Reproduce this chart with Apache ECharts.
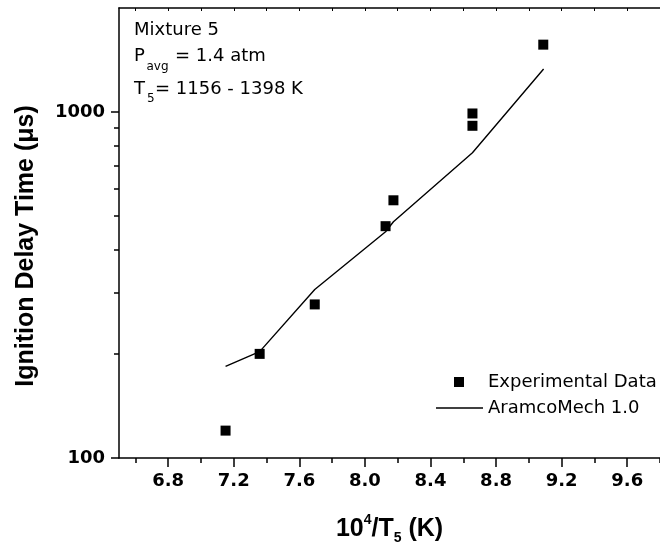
<!DOCTYPE html>
<html>
<head>
<meta charset="utf-8">
<script src="https://cdn.jsdelivr.net/npm/echarts@6/dist/echarts.min.js"></script>
<style>html,body{margin:0;padding:0;background:#fff}#c{width:660px;height:550px}</style>
</head>
<body>
<div id="c"></div>
<script>
// ---- data ----
const expX = [7.15, 7.358, 7.694, 8.126, 8.174, 8.656, 8.656, 9.088];
const expY = [120, 200, 278, 468, 556, 991, 913, 1567];
const simX = [7.15, 7.358, 7.694, 8.126, 8.174, 8.656, 9.09];
const simY = [184, 203, 307, 451, 482, 763, 1333];
const xMajorTicks = [6.8, 7.2, 7.6, 8.0, 8.4, 8.8, 9.2, 9.6];
const xMinorTicks = [6.6, 7.0, 7.4, 7.8, 8.2, 8.6, 9.0, 9.4, 9.8];
const xTopTicks = [6.6, 6.8, 7.0, 7.2, 7.4, 7.6, 7.8, 8.0, 8.2, 8.4, 8.6, 8.8, 9.0, 9.2, 9.4, 9.6, 9.8];
const yMajorTicks = [100, 1000];
const yMinorTicks = [200, 300, 400, 500, 600, 700, 800, 900];
const seriesNames = ['Experimental Data', 'AramcoMech 1.0'];

const expData = expX.map((x, i) => [x, expY[i]]);
const simData = simX.map((x, i) => [x, simY[i]]);

const chart = echarts.init(document.getElementById('c'));
const FONT = 'DejaVu Sans';
const axisLine = {show: true, lineStyle: {color: '#000', width: 1.5}};
const X_MIN = 6.5, X_MAX = 9.8, Y_MIN = 100, Y_MAX = 2000;

chart.setOption({
  animation: false,
  backgroundColor: '#fff',
  grid: {left: 119, right: -10, top: 8, bottom: 92, containLabel: false},
  xAxis: [
    {
      type: 'value', min: X_MIN, max: X_MAX, position: 'bottom',
      axisLine: axisLine,
      axisTick: {show: true, inside: false, length: 9, customValues: xMajorTicks, lineStyle: {color: '#000', width: 1.5}},
      axisLabel: {show: true, customValues: xMajorTicks, margin: 14, color: '#000',
        fontFamily: FONT, fontWeight: 'bold', fontSize: 18, formatter: v => v.toFixed(1)},
      splitLine: {show: false},
      name: '{a|10}{sup|4}{a|/T}{sub|5}{a| (K)}',
      nameLocation: 'middle', nameGap: 55,
      nameTextStyle: {
        rich: {
          a: {fontFamily: 'Liberation Sans', fontWeight: 'bold', fontSize: 25, color: '#000', lineHeight: 32},
          sup: {fontFamily: 'Liberation Sans', fontWeight: 'bold', fontSize: 14, color: '#000', verticalAlign: 'top', lineHeight: 14},
          sub: {fontFamily: 'Liberation Sans', fontWeight: 'bold', fontSize: 14, color: '#000', verticalAlign: 'bottom', lineHeight: 14}
        }
      }
    },
    {
      type: 'value', min: X_MIN, max: X_MAX, position: 'bottom',
      axisLine: {show: false},
      axisTick: {show: true, inside: false, length: 5, customValues: xMinorTicks, lineStyle: {color: '#000', width: 1.5}},
      axisLabel: {show: false}, splitLine: {show: false}
    },
    {
      type: 'value', min: X_MIN, max: X_MAX, position: 'top',
      axisLine: axisLine,
      axisTick: {show: true, inside: true, length: 3, customValues: xTopTicks, lineStyle: {color: '#000', width: 1}},
      axisLabel: {show: false}, splitLine: {show: false}
    }
  ],
  yAxis: [
    {
      type: 'log', logBase: 10, min: Y_MIN, max: Y_MAX, position: 'left',
      axisLine: axisLine,
      axisTick: {show: true, inside: false, length: 8, customValues: yMajorTicks, lineStyle: {color: '#000', width: 1.5}},
      axisLabel: {show: true, customValues: yMajorTicks, margin: 14, color: '#000',
        fontFamily: FONT, fontWeight: 'bold', fontSize: 18, formatter: v => String(Math.round(v))},
      splitLine: {show: false},
      name: 'Ignition Delay Time (μs)',
      nameLocation: 'middle', nameGap: 80,
      nameTextStyle: {fontFamily: 'Liberation Sans', fontWeight: 'bold', fontSize: 25, color: '#000', padding: [0, 26, 0, 0]}
    },
    {
      type: 'log', logBase: 10, min: Y_MIN, max: Y_MAX, position: 'left',
      axisLine: {show: false},
      axisTick: {show: true, inside: false, length: 5, customValues: yMinorTicks, lineStyle: {color: '#000', width: 1.5}},
      axisLabel: {show: false}, splitLine: {show: false}
    }
  ],
  legend: [
    {
      data: [seriesNames[0]], left: 454, top: 372, orient: 'vertical', padding: 0,
      itemWidth: 10, itemHeight: 10, icon: 'rect',
      formatter: n => '{p|' + n + '}',
      textStyle: {color: '#000', fontFamily: FONT, fontSize: 18, lineHeight: 20,
        rich: {p: {padding: [0, 0, 0, 19], fontFamily: FONT, fontSize: 18, color: '#000'}}}
    },
    {
      data: [{name: seriesNames[1], icon: 'rect'}], left: 436, top: 398, orient: 'vertical', padding: 0,
      itemWidth: 47, itemHeight: 1.5,
      textStyle: {color: '#000', fontFamily: FONT, fontSize: 18, lineHeight: 20}
    }
  ],
  graphic: [
    {type: 'text', x: 134, y: 30.7, style: {text: 'Mixture 5', font: '18px "DejaVu Sans"', fill: '#000', verticalAlign: 'middle', align: 'left'}},
    {type: 'text', x: 134, y: 56.7, style: {text: 'P', font: '18px "DejaVu Sans"', fill: '#000', verticalAlign: 'middle', align: 'left'}},
    {type: 'text', x: 146.5, y: 66.5, style: {text: 'avg', font: '12px "DejaVu Sans"', fill: '#000', verticalAlign: 'middle', align: 'left'}},
    {type: 'text', x: 175, y: 56.7, style: {text: '= 1.4 atm', font: '18px "DejaVu Sans"', fill: '#000', verticalAlign: 'middle', align: 'left'}},
    {type: 'text', x: 134, y: 89.3, style: {text: 'T', font: '18px "DejaVu Sans"', fill: '#000', verticalAlign: 'middle', align: 'left'}},
    {type: 'text', x: 147, y: 99, style: {text: '5', font: '12px "DejaVu Sans"', fill: '#000', verticalAlign: 'middle', align: 'left'}},
    {type: 'text', x: 155, y: 89.3, style: {text: '= 1156 - 1398 K', font: '18px "DejaVu Sans"', fill: '#000', verticalAlign: 'middle', align: 'left'}}
  ],
  series: [
    {
      name: seriesNames[0], type: 'scatter', xAxisIndex: 0, yAxisIndex: 0,
      data: expData, symbol: 'rect', symbolSize: 10,
      itemStyle: {color: '#000', opacity: 1}, z: 3
    },
    {
      name: seriesNames[1], type: 'line', xAxisIndex: 0, yAxisIndex: 0,
      data: simData, symbol: 'none', showSymbol: false,
      lineStyle: {color: '#000', width: 1.4}, itemStyle: {color: '#000'}, z: 2
    }
  ]
});
</script>
</body>
</html>
